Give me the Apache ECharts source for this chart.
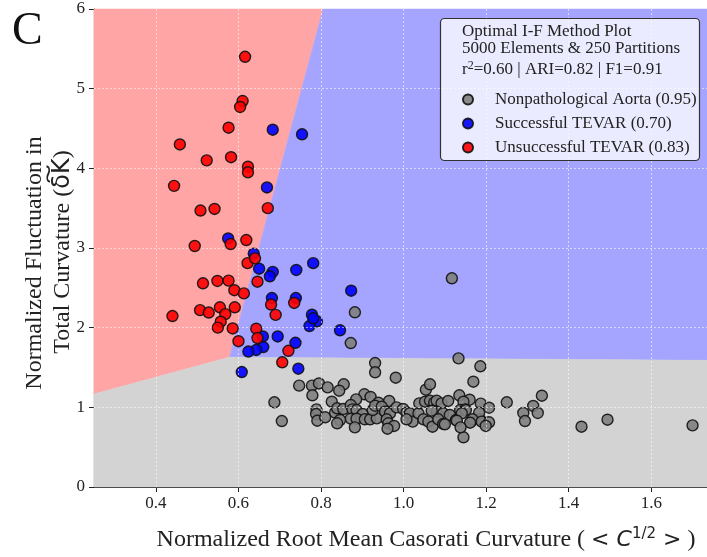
<!DOCTYPE html>
<html><head><meta charset="utf-8">
<script src="https://cdn.jsdelivr.net/npm/echarts@6/dist/echarts.min.js"></script>
<style>html,body{margin:0;padding:0;background:#fff}#c{width:707px;height:557px}</style>
</head><body><div id="c"></div>
<script>
const xTicks = [0.4, 0.6, 0.8, 1.0, 1.2, 1.4, 1.6];
const yTicks = [0, 1, 2, 3, 4, 5, 6];
const gridY = [1, 2, 3, 4, 5];

const redRegion  = [[0.25, 6], [0.805, 6], [0.578, 1.63], [0.25, 1.167]];
const blueRegion = [[0.805, 6], [1.735, 6], [1.735, 1.59], [0.578, 1.63]];
const greyRegion = [[0.25, 0], [1.735, 0], [1.735, 1.59], [0.578, 1.63], [0.25, 1.167]];

const legendNames = ['Nonpathological Aorta (0.95)', 'Successful TEVAR (0.70)', 'Unsuccessful TEVAR (0.83)'];

const greyPts = [
[1.117,2.62],[0.882,2.193],[0.872,1.807],[0.931,1.556],[0.931,1.44],[0.981,1.372],[1.133,1.615],[1.186,1.515],
[0.747,1.272],[0.778,1.272],[0.795,1.30],[0.816,1.251],[0.855,1.289],[0.844,1.209],[0.779,1.151],[0.687,1.063],
[0.705,0.828],[0.826,1.071],[0.905,1.164],[0.885,1.10],[0.920,1.13],[0.939,1.058],[0.965,1.08],[1.054,1.221],
[1.064,1.289],[1.169,1.322],[1.135,1.151],[1.160,1.096],[1.145,1.071],[0.789,0.975],[0.788,0.916],[0.791,0.832],
[0.810,0.875],[0.834,0.933],[0.839,0.988],[0.854,0.979],[0.872,1.029],[0.876,0.975],[0.886,0.966],[0.901,0.916],
[0.872,0.857],[0.886,0.857],[0.906,0.85],[0.919,0.85],[0.935,0.862],[0.846,0.841],[0.839,0.80],[0.882,0.749],
[0.925,0.966],[0.931,1.02],[0.947,1.008],[0.955,0.945],[0.967,0.925],[0.959,0.85],[0.963,0.80],[0.977,0.766],
[0.961,0.732],[0.983,1.0],[0.999,0.979],[1.007,0.933],[1.015,0.925],[1.022,0.82],[1.007,0.85],[1.036,0.925],
[1.038,1.05],[1.052,1.071],[1.064,1.083],[1.074,1.058],[1.080,1.083],[1.092,1.05],[1.108,1.08],[1.048,0.85],
[1.060,0.82],[1.070,0.757],[1.080,0.945],[1.068,0.958],[1.096,0.925],[1.084,0.85],[1.096,0.791],[1.112,0.904],
[1.127,0.841],[1.137,0.966],[1.149,0.975],[1.163,0.82],[1.145,0.624],[1.185,0.85],[1.187,1.046],[1.207,0.995],
[1.25,1.063],[1.335,1.146],[1.314,1.017],[1.325,0.929],[1.29,0.929],[1.294,0.828],[1.183,0.933],[1.151,0.966],
[1.141,0.925],[1.167,0.85],[1.161,0.807],[1.129,0.832],[1.10,0.787],[1.138,0.749],[1.189,0.82],[1.207,0.812],
[1.199,0.766],[1.431,0.757],[1.494,0.845],[1.70,0.774]
];

const bluePts = [
[0.683,4.485],[0.754,4.427],[0.669,3.76],[0.575,3.12],[0.637,2.93],[0.650,2.74],[0.683,2.70],[0.676,2.645],
[0.740,2.724],[0.781,2.81],[0.873,2.464],[0.681,2.372],[0.739,2.372],[0.778,2.163],[0.790,2.08],[0.772,2.02],
[0.781,2.118],[0.846,1.967],[0.659,1.89],[0.660,1.757],[0.643,1.72],[0.624,1.70],[0.695,1.89],[0.738,1.81],
[0.608,1.443],[0.745,1.485]
];

const redPts = [
[0.616,5.40],[0.610,4.845],[0.604,4.77],[0.576,4.51],[0.458,4.30],[0.523,4.10],[0.582,4.14],[0.623,4.02],
[0.623,3.95],[0.444,3.78],[0.508,3.47],[0.542,3.49],[0.671,3.50],[0.494,3.025],[0.581,3.05],[0.619,3.10],
[0.622,2.81],[0.640,2.87],[0.514,2.557],[0.549,2.586],[0.576,2.59],[0.590,2.47],[0.613,2.43],[0.646,2.577],
[0.440,2.146],[0.507,2.22],[0.528,2.19],[0.555,2.256],[0.568,2.17],[0.591,2.256],[0.557,2.075],[0.550,2.0],
[0.586,1.99],[0.643,1.987],[0.646,1.87],[0.600,1.83],[0.679,2.29],[0.690,2.16],[0.735,2.31],[0.721,1.71],
[0.706,1.565]
];

const regions = [redRegion, blueRegion, greyRegion];
const regionColors = ['#ffa5a5', '#a5a5ff', '#d3d3d3'];

const serif = '"Liberation Serif", "Times New Roman", serif';
const sans = '"DejaVu Sans", sans-serif';

const chart = echarts.init(document.getElementById('c'), null, {renderer: 'canvas'});

function scatter(name, data, color, z) {
  return {
    name, type: 'scatter', data, z,
    symbol: 'circle', symbolSize: 11,
    itemStyle: {color, borderColor: '#111', borderWidth: 1.4, opacity: 0.9},
    emphasis: {disabled: true}, silent: true
  };
}

chart.setOption({
  animation: false,
  grid: {left: 94, top: 9, width: 613, height: 478, containLabel: false},
  xAxis: [{
    type: 'value', min: 0.25, max: 1.735,
    axisLine: {show: true, lineStyle: {color: '#222', width: 1.2}},
    axisTick: {show: true, inside: false, length: 5, customValues: xTicks, lineStyle: {color: '#222'}},
    axisLabel: {customValues: xTicks, formatter: v => v.toFixed(1), margin: 8,
      fontFamily: serif, fontSize: 17, color: '#222'},
    splitLine: {show: false}
  }, {
    type: 'value', position: 'top', min: 0.25, max: 1.735,
    axisLine: {show: true, lineStyle: {color: '#222', width: 1.2}},
    axisTick: {show: false}, axisLabel: {show: false}, splitLine: {show: false}
  }],
  yAxis: {
    type: 'value', min: 0, max: 6, interval: 1,
    axisLine: {show: true, lineStyle: {color: '#222', width: 1.2}},
    axisTick: {show: true, inside: false, length: 5, lineStyle: {color: '#222'}},
    axisLabel: {margin: 9, fontFamily: serif, fontSize: 17, color: '#222'},
    splitLine: {show: false}
  },
  legend: {
    data: legendNames, orient: 'vertical', left: 457, top: 86, itemGap: 7,
    itemWidth: 10, itemHeight: 10, icon: 'circle',
    textStyle: {fontFamily: serif, fontSize: 17, color: '#222', padding: [0, 0, 0, 17]},
    selectedMode: false, z: 20
  },
  graphic: [
    {type: 'rect', z: 15, shape: {x: 440.5, y: 18.5, width: 259, height: 142, r: 4},
      style: {fill: 'rgba(255,255,255,0.78)', stroke: '#333', lineWidth: 1.2}},
    {type: 'text', z: 16, left: 462, top: 23, style: {text: 'Optimal I-F Method Plot', font: '17px ' + serif, fill: '#222'}},
    {type: 'text', z: 16, left: 462, top: 40, style: {text: '5000 Elements & 250 Partitions', font: '17px ' + serif, fill: '#222'}},
    {type: 'text', z: 16, left: 462, top: 60, style: {
      text: '{a|r}{s|2}{a|=0.60 | ARI=0.82 | F1=0.91}',
      rich: {a: {fontFamily: serif, fontSize: 17, fill: '#222'},
             s: {fontFamily: serif, fontSize: 12, fill: '#222', padding: [0, 0, 8, 0]}}}},
    {type: 'text', z: 16, left: 12, top: 9, style: {text: 'C', font: '46px ' + serif, fill: '#111'}},
    {type: 'text', z: 16, x: 35, y: 263, rotation: Math.PI / 2, style: {
      text: 'Normalized Fluctuation in', font: '24px ' + serif, fill: '#222', align: 'center', verticalAlign: 'middle'}},
    {type: 'text', z: 16, x: 63, y: 252, rotation: Math.PI / 2, style: {
      text: '{a|Total Curvature (}{b|δ͠K}{a|)}', align: 'center', verticalAlign: 'middle',
      rich: {a: {fontFamily: serif, fontSize: 24, fill: '#222'}, b: {fontFamily: sans, fontSize: 24, fill: '#222'}}}},
    {type: 'text', z: 16, x: 426, y: 540, style: {
      text: '{a|Normalized Root Mean Casorati Curvature ( }{b|< }{c|C}{s|1/2}{b| >}{a| )}',
      align: 'center', verticalAlign: 'middle',
      rich: {a: {fontFamily: serif, fontSize: 24, fill: '#222'},
             b: {fontFamily: sans, fontSize: 22, fill: '#222'},
             c: {fontFamily: sans, fontSize: 22, fontStyle: 'italic', fill: '#222'},
             s: {fontFamily: sans, fontSize: 15, fill: '#222', padding: [0, 0, 11, 0]}}}}
  ],
  series: [
    {
      type: 'custom', z: 1, silent: true,
      data: regions.map((r, i) => [i]),
      renderItem: (params, api) => {
        const i = params.dataIndex;
        return {type: 'polygon', shape: {points: regions[i].map(p => api.coord(p))},
          style: {fill: regionColors[i], stroke: regionColors[i], lineWidth: 0.5}};
      }
    },
    {
      type: 'line', z: 2, data: [], silent: true,
      markLine: {silent: true, symbol: 'none', label: {show: false}, animation: false,
        lineStyle: {color: 'rgba(255,255,255,0.55)', type: [2, 2], width: 1},
        data: xTicks.map(v => ({xAxis: v})).concat(gridY.map(v => ({yAxis: v})))}
    },
    scatter(legendNames[0], greyPts, '#808080', 3),
    scatter(legendNames[1], bluePts, '#0000ff', 4),
    scatter(legendNames[2], redPts, '#ff0000', 5)
  ]
});
</script></body></html>
